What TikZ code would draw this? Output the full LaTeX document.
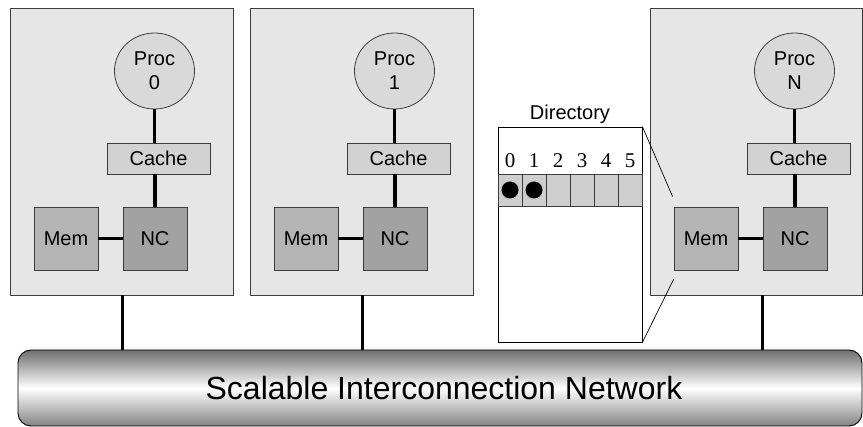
\documentclass[tikz,border=0pt]{standalone}
\usepackage{fontspec}
\setmainfont{Liberation Sans}
\newfontfamily\digitfont{Liberation Serif}
\usetikzlibrary{calc,shapes.geometric}
\definecolor{boxfill}{HTML}{E6E6E6}
\definecolor{procfill}{HTML}{D9D9D9}
\definecolor{cachefill}{HTML}{D2D2D2}
\definecolor{memfill}{HTML}{B4B4B4}
\definecolor{ncfill}{HTML}{A2A2A2}
\definecolor{cellfill}{HTML}{CECECE}
\definecolor{edge}{HTML}{3C3C3C}
\definecolor{busdark}{HTML}{6E6E6E}
\tikzset{
  nodebox/.style={draw=edge, line width=0.9pt, fill=boxfill,
    minimum height=287pt, inner sep=0pt},
  procnode/.style={ellipse, draw=edge, line width=0.8pt, fill=procfill, minimum width=80pt,
    minimum height=76pt, inner sep=0pt, align=center, font=\fontsize{20}{24}\selectfont},
  cachenode/.style={draw=edge, line width=0.8pt, fill=cachefill, minimum width=103pt,
    minimum height=31pt, inner sep=0pt, font=\fontsize{20}{24}\selectfont},
  memnode/.style={draw=edge, line width=0.8pt, fill=memfill, minimum width=64pt,
    minimum height=63pt, inner sep=0pt, font=\fontsize{20}{24}\selectfont},
  ncnode/.style={memnode, fill=ncfill},
  link/.style={line width=3.5pt},
  buslink/.style={line width=2.5pt},
  cell/.style={draw=edge, line width=0.7pt, fill=cellfill, minimum width=24pt,
    minimum height=32pt, inner sep=0pt},
  idx/.style={font=\digitfont\fontsize{21}{25}\selectfont, inner sep=0pt},
  dot/.style={circle, fill=black, minimum size=17pt, inner sep=0pt},
  zoomline/.style={line width=0.7pt},
}
\begin{document}
\begin{tikzpicture}[x=1pt, y=-1pt]
\useasboundingbox (0,0) rectangle (863,427);

% processing nodes: box, processor, cache, memory, node controller
\foreach \k/\dx/\lab/\bw/\bx in {0/0/0/223/121.5, 1/240/1/223/121.5, N/640/N/212/116} {
  \begin{scope}[xshift=\dx pt]
    \node[nodebox, minimum width=\bw pt] (box\k) at (\bx,151.5) {};
    \node[procnode] (proc\k) at (154.5,71) {Proc\\\lab};
    \node[cachenode] (cache\k) at (158.5,158.5) {Cache};
    \node[memnode] (mem\k) at (66,238.5) {Mem};
    \node[ncnode] (nc\k) at (155,238.5) {NC};
  \end{scope}
  \draw[link] (proc\k.south) -- (cache\k.north -| proc\k.south);
  \draw[link] (cache\k.south -| nc\k.north) -- (nc\k.north);
  \draw[link] (mem\k.east) -- (nc\k.west);
}

% interconnect
\shade[draw=black, line width=0.9pt, rounded corners=13pt,
  top color=busdark, bottom color=busdark!85, middle color=white]
  (18,350) rectangle (862,426);
\node[font=\fontsize{32}{38}\selectfont, inner sep=0pt] (bus) at (444,388) {Scalable Interconnection Network};
\coordinate (busTop) at (440,350);

\foreach \k in {0,1,N} {
  \draw[buslink] (box\k.south -| nc\k.west) -- (busTop -| nc\k.west);
}

% directory entry of the memory in node N
\node[draw=black, line width=0.8pt, fill=white, minimum width=144pt, minimum height=215pt,
  inner sep=0pt] (dir) at (570,234.5) {};
\node[font=\fontsize{20}{24}\selectfont, inner sep=0pt, anchor=base] (dirlabel) at (570,120) {Directory};
\foreach \i in {0,...,5} {
  \node[cell] (c\i) at (510+24*\i,190) {};
  \node[idx, anchor=base] (n\i) at (510+24*\i,168) {\i};
}
\node[dot] (d0) at (c0) {};
\node[dot] (d1) at (c1) {};

\coordinate (memTop) at ($(memN.north west)+(-1,-10)$);
\coordinate (memBot) at ($(memN.south west)+(0,9)$);
\draw[zoomline] (dir.north east) -- (memTop);
\draw[zoomline] (dir.south east) -- (memBot);
\end{tikzpicture}
\end{document}
